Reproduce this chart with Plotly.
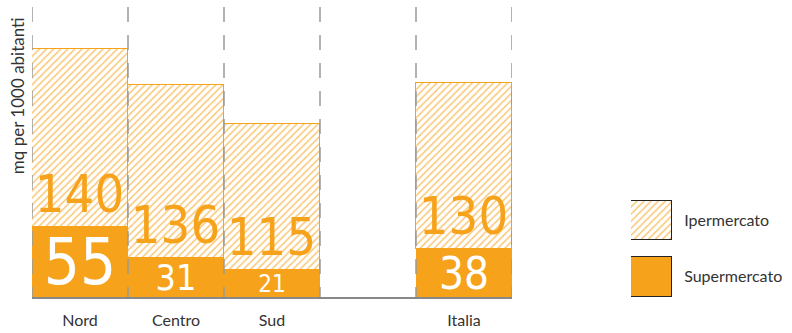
import plotly.graph_objects as go

categories = ["Nord", "Centro", "Sud", " ", "Italia"]
supermercato = [55, 31, 21, None, 38]
ipermercato = [140, 136, 115, None, 130]
series_names = ["Ipermercato", "Supermercato"]
y_title = "mq per 1000 abitanti"

ORANGE = "#F7A21B"
GRID = "#9a9a9a"
TEXT = "#333333"
NUMFONT = "DejaVu Sans Condensed, Liberation Sans Narrow, Roboto, sans-serif"
LABFONT = "Lato, Noto Sans, sans-serif"

HATCH = dict(shape="/", fgcolor=ORANGE, bgcolor="white",
             size=5, solidity=0.3, fgopacity=0.6)

super_sizes = [(v * 1.15 if v is not None else 10) for v in supermercato]

fig = go.Figure()
fig.add_trace(go.Bar(
    name="Supermercato", x=categories, y=supermercato,
    marker=dict(color=ORANGE, line=dict(width=0)),
    text=[str(v) if v is not None else "" for v in supermercato],
    textposition="inside", insidetextanchor="middle", textangle=0,
    textfont=dict(family=NUMFONT, size=super_sizes, color="white"),
    constraintext="none", cliponaxis=False, showlegend=False,
))
fig.add_trace(go.Bar(
    name="Ipermercato", x=categories, y=ipermercato,
    marker=dict(color="white", line=dict(color=ORANGE, width=1), pattern=HATCH),
    text=[str(v) if v is not None else "" for v in ipermercato],
    textposition="inside", insidetextanchor="start", textangle=0,
    textfont=dict(family=NUMFONT, size=52, color=ORANGE),
    constraintext="none", cliponaxis=False, showlegend=False,
))

# legend keys drawn as a small side subplot
fig.add_trace(go.Bar(
    x=[1], y=[series_names[0]], orientation="h", xaxis="x2", yaxis="y2",
    width=0.714,
    marker=dict(color="white", line=dict(color="#222222", width=1), pattern=HATCH),
    showlegend=False, hoverinfo="skip",
))
fig.add_trace(go.Bar(
    x=[1], y=[series_names[1]], orientation="h", xaxis="x2", yaxis="y2",
    width=0.714,
    marker=dict(color=ORANGE, line=dict(color="#222222", width=1)),
    showlegend=False, hoverinfo="skip",
))

n = len(categories)
for i in range(n + 1):
    fig.add_shape(type="line", xref="x", yref="paper",
                  x0=i - 0.5, x1=i - 0.5, y0=1, y1=0,
                  line=dict(color=GRID, width=1.5, dash="15px,13px"),
                  layer="above")

fig.add_annotation(text=y_title, xref="paper", yref="paper",
                   x=-0.019, y=0.695, textangle=-90, showarrow=False,
                   xanchor="center", yanchor="middle",
                   font=dict(family=LABFONT, size=17, color=TEXT))

fig.update_layout(
    width=792, height=333,
    margin=dict(l=32, r=10, t=7, b=36, autoexpand=False),
    barmode="stack", bargap=0,
    plot_bgcolor="white", paper_bgcolor="white",
    showlegend=False,
    xaxis=dict(domain=[0, 0.64], showgrid=False, showline=True,
               linecolor="#888888", linewidth=1.5, automargin=False,
               ticks="outside", ticklen=8, tickcolor="rgba(0,0,0,0)",
               tickfont=dict(family=LABFONT, size=16, color=TEXT),
               range=[-0.5, n - 0.5], fixedrange=True),
    yaxis=dict(showgrid=False, showline=False, showticklabels=False,
               zeroline=False, range=[0, 228], automargin=False),
    xaxis2=dict(domain=[0.7987, 0.8533], anchor="y2", range=[0, 1],
                showgrid=False, showline=False, zeroline=False,
                showticklabels=False, automargin=False),
    yaxis2=dict(domain=[0, 0.3345], anchor="x2", side="right",
                categoryorder="array", categoryarray=series_names[::-1],
                range=[-0.366, 1.366], automargin=False,
                showgrid=False, showline=False, zeroline=False,
                ticks="outside", ticklen=8, tickcolor="rgba(0,0,0,0)",
                tickfont=dict(family=LABFONT, size=16, color=TEXT)),
)

fig.write_html("out.html")
